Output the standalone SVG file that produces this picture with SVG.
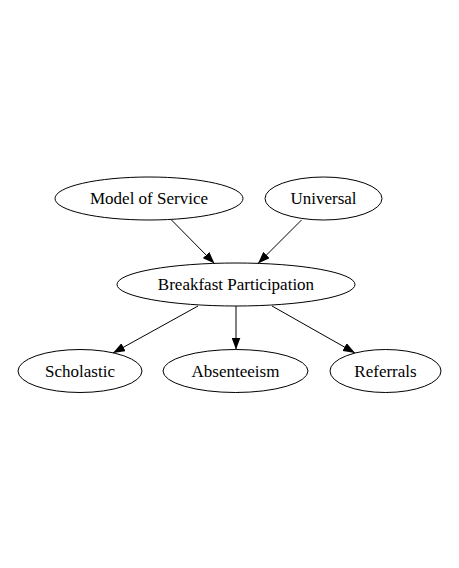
<svg xmlns="http://www.w3.org/2000/svg" width="459" height="568" viewBox="0 0 459 568">
<defs>
<marker id="arr" viewBox="0 0 12 9" refX="12" refY="4.5" markerWidth="12" markerHeight="9" markerUnits="userSpaceOnUse" orient="auto">
<path d="M0,0 L12,4.5 L0,9 Z" fill="#000"/>
</marker>
<style>
.n ellipse{fill:none;stroke:#000;stroke-width:1}
.n text{font-family:"Liberation Serif","Times New Roman",serif;font-size:17px;fill:#000;text-anchor:middle}
.e line{stroke:#000;stroke-width:1;marker-end:url(#arr)}
</style>
</defs>
<rect width="459" height="568" fill="#fff"/>
<g id="model" class="n"><ellipse cx="149" cy="198.5" rx="94" ry="21.5"/><text x="149" y="204">Model of Service</text></g>
<g id="universal" class="n"><ellipse cx="323.5" cy="198.5" rx="58.5" ry="21.5"/><text x="323.5" y="204">Universal</text></g>
<g id="breakfast" class="n"><ellipse cx="236" cy="284.5" rx="119" ry="21.5"/><text x="236" y="290">Breakfast Participation</text></g>
<g id="scholastic" class="n"><ellipse cx="80" cy="371" rx="62" ry="21.5"/><text x="80" y="376.5">Scholastic</text></g>
<g id="absenteeism" class="n"><ellipse cx="235.5" cy="371" rx="72.5" ry="21.5"/><text x="235.5" y="376.5">Absenteeism</text></g>
<g id="referrals" class="n"><ellipse cx="385.5" cy="371" rx="55.5" ry="21.5"/><text x="385.5" y="376.5">Referrals</text></g>
<g id="edges" class="e">
<line x1="171.5" y1="220" x2="214.5" y2="263.5"/>
<line x1="301.5" y1="220" x2="258" y2="263.5"/>
<line x1="198" y1="306" x2="113" y2="353"/>
<line x1="236" y1="306" x2="236" y2="349.5"/>
<line x1="272" y1="306" x2="355" y2="353"/>
</g>
</svg>
